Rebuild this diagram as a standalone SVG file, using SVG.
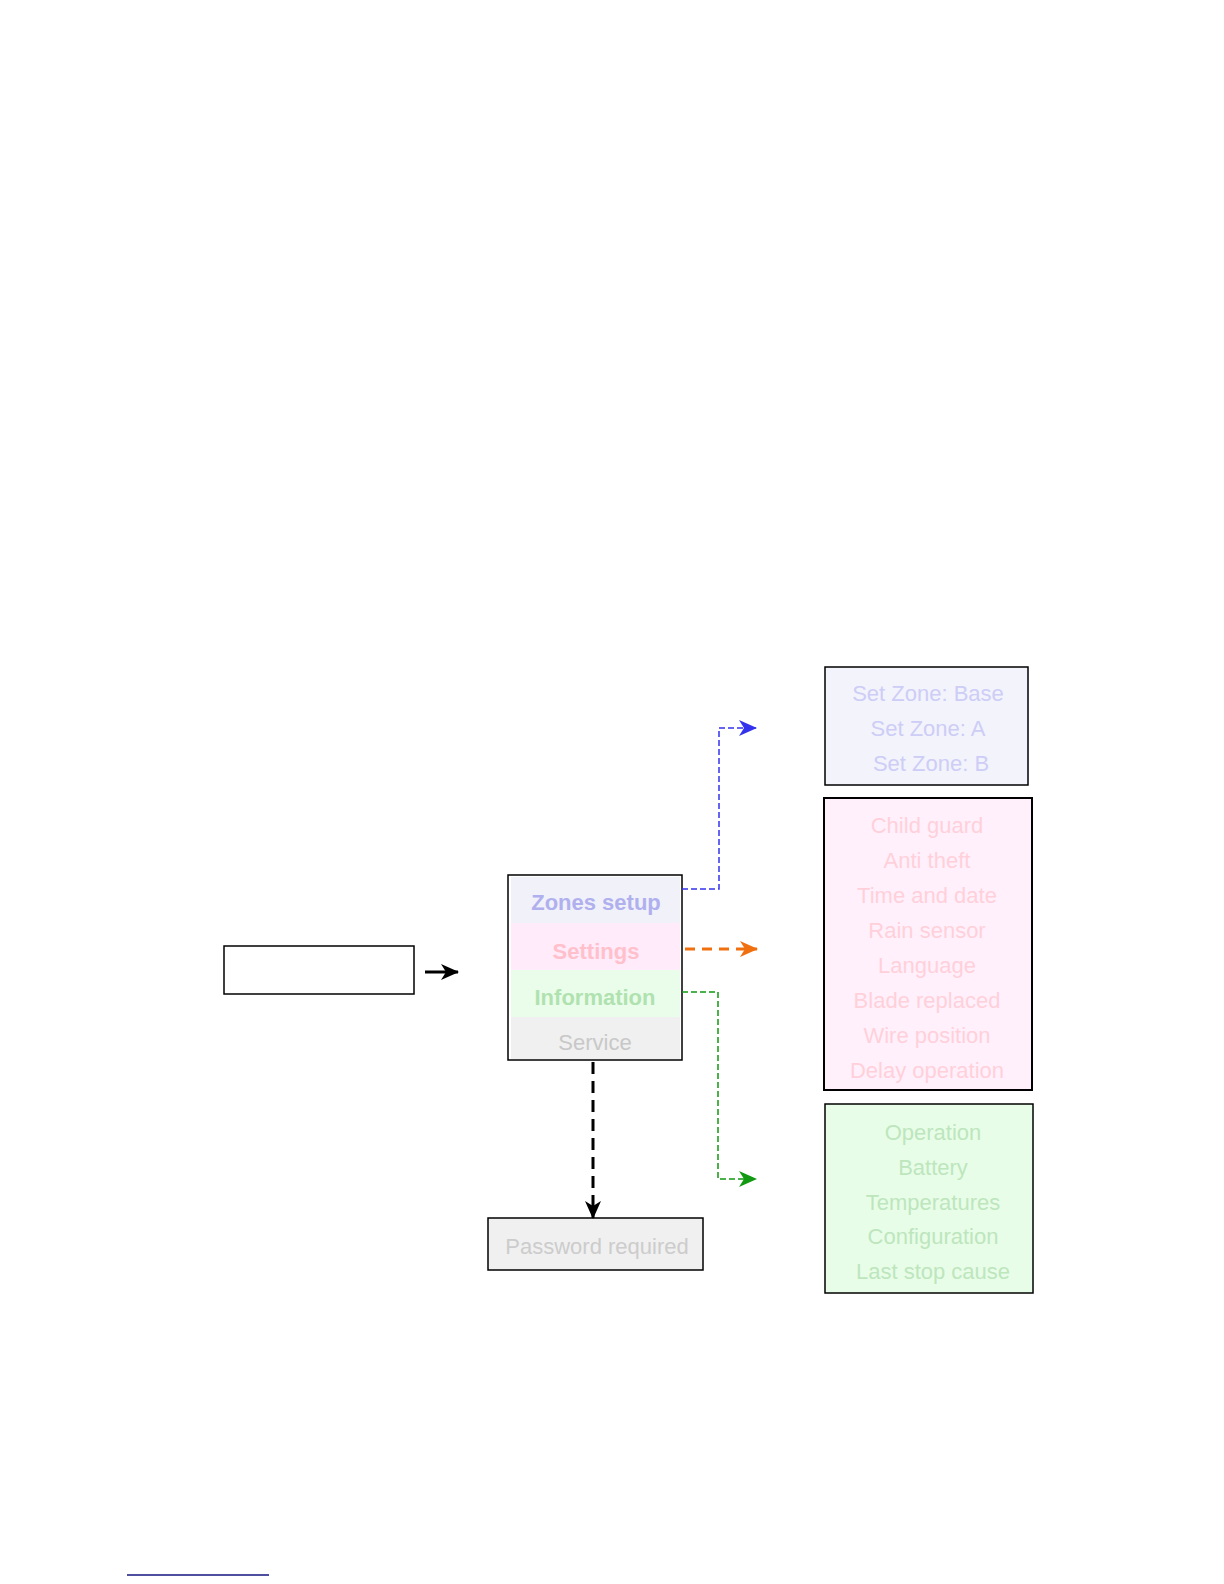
<svg xmlns="http://www.w3.org/2000/svg" width="1224" height="1584" viewBox="0 0 1224 1584">
<defs>
<style>
.t{font-family:"Liberation Sans",Arial,sans-serif;font-size:22px;text-anchor:middle}
.b{font-weight:bold}
.box{stroke:#000;stroke-width:1.5}
</style>
<marker id="mBlue" markerWidth="18" markerHeight="16" refX="17" refY="8" orient="auto" markerUnits="userSpaceOnUse"><path d="M0,0 L18,8 L0,16 L5,8 Z" fill="#3333ee"/></marker>
<marker id="mOrange" markerWidth="18" markerHeight="16" refX="17" refY="8" orient="auto" markerUnits="userSpaceOnUse"><path d="M0,0 L18,8 L0,16 L5,8 Z" fill="#f07010"/></marker>
<marker id="mGreen" markerWidth="18" markerHeight="16" refX="17" refY="8" orient="auto" markerUnits="userSpaceOnUse"><path d="M0,0 L18,8 L0,16 L5,8 Z" fill="#119911"/></marker>
<marker id="mBlack" markerWidth="18" markerHeight="16" refX="17" refY="8" orient="auto" markerUnits="userSpaceOnUse"><path d="M0,0 L18,8 L0,16 L5,8 Z" fill="#000"/></marker>
</defs>
<rect width="1224" height="1584" fill="#fff"/>

<g id="start">
<rect class="box" x="224" y="946" width="190" height="48" fill="#fff"/>
</g>

<g id="menu">
<rect x="508" y="875" width="174" height="185" fill="#fff"/>
<rect x="511" y="877" width="169" height="46" fill="#f1f1fa"/>
<rect x="511" y="923" width="169" height="47" fill="#ffebf9"/>
<rect x="511" y="970" width="169" height="47" fill="#eafdea"/>
<rect x="511" y="1017" width="169" height="42" fill="#f0f0f0"/>
<rect class="box" x="508" y="875" width="174" height="185" fill="none"/>
<text class="t b" x="596" y="910" fill="#b0b0ee">Zones setup</text>
<text class="t b" x="596" y="959" fill="#ffc0cc">Settings</text>
<text class="t b" x="595" y="1005" fill="#b0e2b0">Information</text>
<text class="t" x="595" y="1050" fill="#c8c8c8">Service</text>
</g>

<g id="zones">
<rect class="box" x="825" y="667" width="203" height="118" fill="#f3f3fc"/>
<text class="t" x="928" y="701" fill="#cdcdf6">Set Zone: Base</text>
<text class="t" x="928" y="736" fill="#cdcdf6">Set Zone: A</text>
<text class="t" x="931" y="771" fill="#cdcdf6">Set Zone: B</text>
</g>

<g id="settings">
<rect x="824" y="798" width="208" height="292" fill="#fff0fb" stroke="#000" stroke-width="2"/>
<text class="t" x="927" y="833" fill="#ffd0da">Child guard</text>
<text class="t" x="927" y="868" fill="#ffd0da">Anti theft</text>
<text class="t" x="927" y="903" fill="#ffd0da">Time and date</text>
<text class="t" x="927" y="938" fill="#ffd0da">Rain sensor</text>
<text class="t" x="927" y="973" fill="#ffd0da">Language</text>
<text class="t" x="927" y="1008" fill="#ffd0da">Blade replaced</text>
<text class="t" x="927" y="1043" fill="#ffd0da">Wire position</text>
<text class="t" x="927" y="1078" fill="#ffd0da">Delay operation</text>
</g>

<g id="information">
<rect class="box" x="825" y="1104" width="208" height="189" fill="#e8fde8"/>
<text class="t" x="933" y="1140" fill="#bde6bd">Operation</text>
<text class="t" x="933" y="1175" fill="#bde6bd">Battery</text>
<text class="t" x="933" y="1210" fill="#bde6bd">Temperatures</text>
<text class="t" x="933" y="1244" fill="#bde6bd">Configuration</text>
<text class="t" x="933" y="1279" fill="#bde6bd">Last stop cause</text>
</g>

<g id="password">
<rect class="box" x="488" y="1218" width="215" height="52" fill="#f0f0f0"/>
<text class="t" x="597" y="1254" fill="#cccccc">Password required</text>
</g>

<g id="connectors" fill="none">
<path d="M425,972 H458" stroke="#000" stroke-width="3" marker-end="url(#mBlack)"/>
<path d="M682,889 H719 V728 H756" stroke="#3333ee" stroke-width="1.5" stroke-dasharray="6,3" marker-end="url(#mBlue)"/>
<path d="M685,949 H757" stroke="#f07010" stroke-width="3" stroke-dasharray="10,7" marker-end="url(#mOrange)"/>
<path d="M682,992 H718 V1179 H756" stroke="#119911" stroke-width="1.5" stroke-dasharray="6,3" marker-end="url(#mGreen)"/>
<path d="M593,1062 V1218" stroke="#000" stroke-width="3" stroke-dasharray="12,7" marker-end="url(#mBlack)"/>
</g>

<line x1="127" y1="1575" x2="269" y2="1575" stroke="#141480" stroke-width="1.5"/>
</svg>
